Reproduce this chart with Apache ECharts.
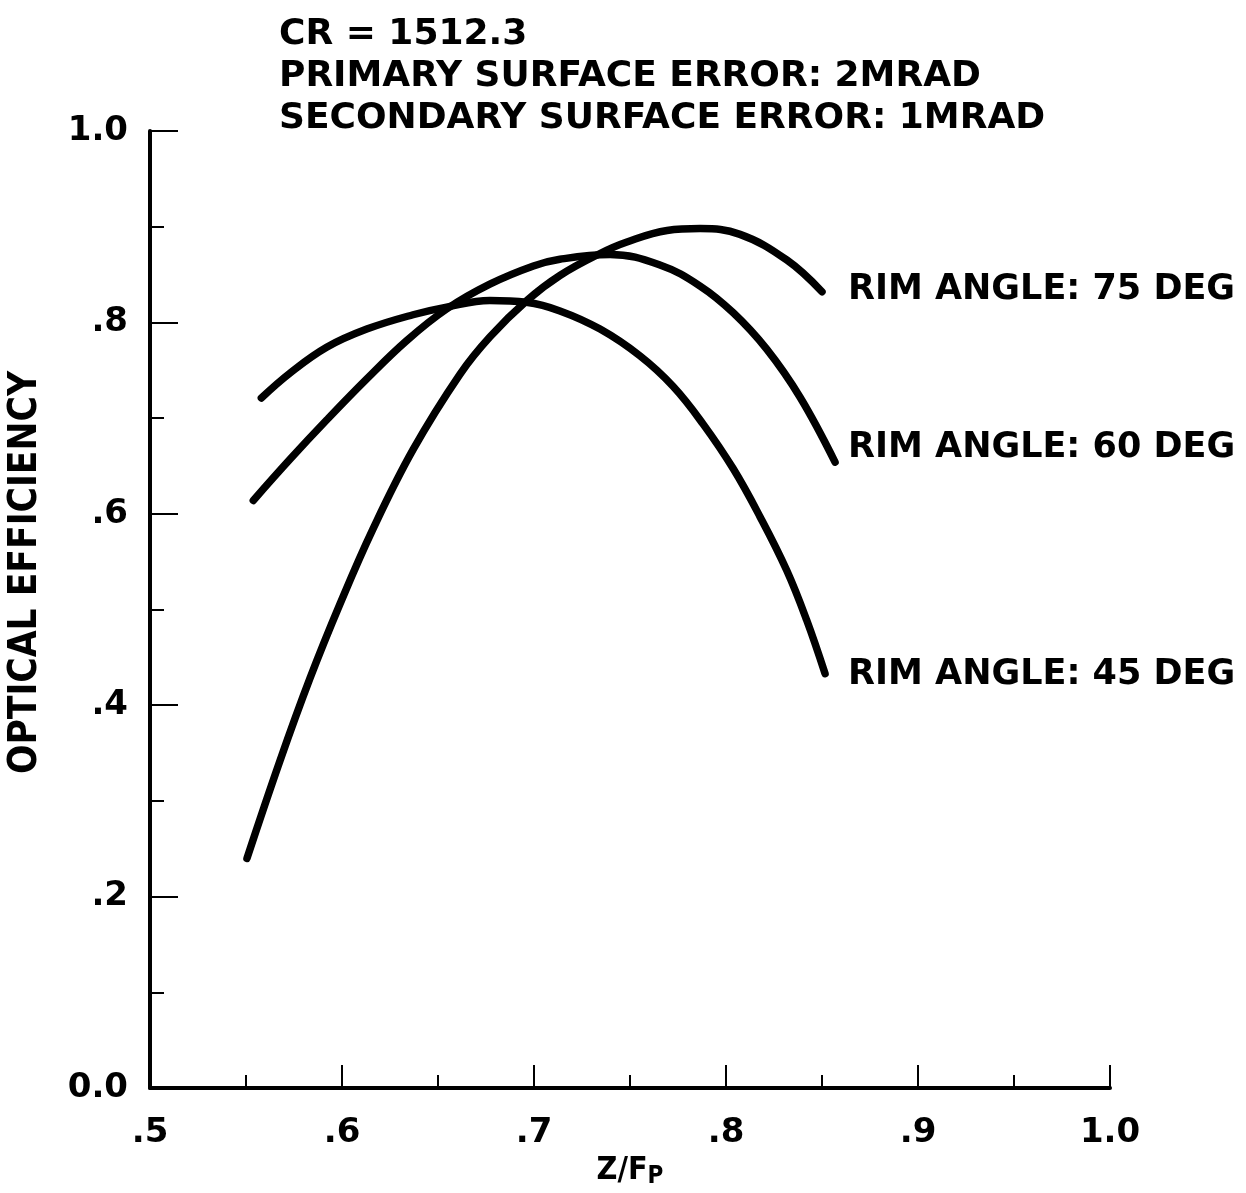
<!DOCTYPE html>
<html>
<head>
<meta charset="utf-8">
<script src="https://cdn.jsdelivr.net/npm/echarts@6/dist/echarts.min.js"></script>
<style>html,body{margin:0;padding:0;background:#fff}#c{width:1246px;height:1193px}</style>
</head>
<body>
<div id="c"></div>
<script>
// ---- data ----
const titleLines = ['CR = 1512.3', 'PRIMARY SURFACE ERROR: 2MRAD', 'SECONDARY SURFACE ERROR: 1MRAD'];
const xTickLabels = ['.5', '.6', '.7', '.8', '.9', '1.0'];
const yTickLabels = ['0.0', '.2', '.4', '.6', '.8', '1.0'];
const seriesNames = ['RIM ANGLE: 75 DEG', 'RIM ANGLE: 60 DEG', 'RIM ANGLE: 45 DEG'];

const x75 = [0.5505, 0.5677, 0.5833, 0.599, 0.6161, 0.637, 0.6615, 0.6771, 0.6964, 0.7135, 0.7344, 0.7484, 0.7693, 0.7865, 0.8073, 0.8318, 0.850];
const y75 = [0.240, 0.342, 0.428, 0.506, 0.584, 0.667, 0.746, 0.785, 0.823, 0.849, 0.872, 0.884, 0.896, 0.898, 0.892, 0.865, 0.832];

const x60 = [0.5538, 0.5729, 0.592, 0.6129, 0.6337, 0.6545, 0.677, 0.6997, 0.7135, 0.7396, 0.7656, 0.7865, 0.8038, 0.8212, 0.8385, 0.8568];
const y60 = [0.614, 0.657, 0.698, 0.741, 0.781, 0.814, 0.840, 0.859, 0.866, 0.871, 0.860, 0.838, 0.810, 0.772, 0.722, 0.654];

const x45 = [0.558, 0.5729, 0.592, 0.6129, 0.637, 0.6545, 0.677, 0.696, 0.7135, 0.7344, 0.7552, 0.7725, 0.788, 0.8038, 0.8177, 0.8316, 0.842, 0.8516];
const y45 = [0.721, 0.747, 0.774, 0.793, 0.808, 0.816, 0.823, 0.821, 0.812, 0.793, 0.765, 0.733, 0.694, 0.647, 0.597, 0.541, 0.489, 0.433];

// ---- chart ----
const pairs = (xs, ys) => xs.map((x, i) => [x, ys[i]]);
const labelOffsets = [[26, -2], [13, -14], [23, 1]];
const FONT = 'DejaVu Sans';
const chart = echarts.init(document.getElementById('c'), null, {renderer: 'canvas'});

function mkSeries(name, data, k) {
  return {
    name, type: 'line', data, smooth: 0.4, showSymbol: false, symbol: 'none',
    lineStyle: {color: '#000', width: 7.5, cap: 'round', join: 'round'},
    endLabel: {
      show: true, formatter: name, color: '#000', fontFamily: FONT, fontWeight: 'bold', fontSize: 35,
      distance: 0, offset: labelOffsets[k], align: 'left', verticalAlign: 'middle'
    },
    animation: false
  };
}

chart.setOption({
  backgroundColor: '#fff',
  animation: false,
  title: {
    text: titleLines.join('\n'),
    left: 274, top: 9,
    textStyle: {color: '#000', fontFamily: FONT, fontWeight: 'bold', fontSize: 36, lineHeight: 42}
  },
  grid: {left: 150, right: 136, top: 131, bottom: 105, containLabel: false, outerBoundsMode: 'none'},
  xAxis: {
    type: 'value', min: 0.5, max: 1.0, interval: 0.1,
    name: '{a|Z/F}{b|P}', nameLocation: 'middle', nameGap: 64,
    nameTextStyle: {rich: {
      a: {fontFamily: 'DejaVu Sans Condensed', fontWeight: 'bold', fontSize: 32, color: '#000'},
      b: {fontFamily: 'DejaVu Sans Condensed', fontWeight: 'bold', fontSize: 24, color: '#000', padding: [12, 0, 0, 0]}
    }},
    axisLine: {show: true, lineStyle: {color: '#000', width: 4}},
    axisTick: {show: true, inside: true, length: 23, lineStyle: {color: '#000', width: 2}},
    minorTick: {show: true, splitNumber: 2, length: 13, lineStyle: {color: '#000', width: 2}},
    splitLine: {show: false}, minorSplitLine: {show: false},
    axisLabel: {
      margin: 28, color: '#000', fontFamily: FONT, fontWeight: 'bold', fontSize: 34,
      formatter: v => xTickLabels[Math.round((v - 0.5) / 0.1)]
    }
  },
  yAxis: {
    type: 'value', min: 0, max: 1.0, interval: 0.2,
    name: 'OPTICAL EFFICIENCY', nameLocation: 'middle', nameGap: 105, nameRotate: 90,
    nameTextStyle: {color: '#000', fontFamily: 'DejaVu Sans Condensed', fontWeight: 'bold', fontSize: 38.5, padding: [0, 0, 0, 74]},
    axisLine: {show: true, lineStyle: {color: '#000', width: 4}},
    axisTick: {show: true, inside: true, length: 28, lineStyle: {color: '#000', width: 2}},
    minorTick: {show: true, splitNumber: 2, length: 14, lineStyle: {color: '#000', width: 2}},
    splitLine: {show: false}, minorSplitLine: {show: false},
    axisLabel: {
      margin: 22, color: '#000', fontFamily: FONT, fontWeight: 'bold', fontSize: 34,
      formatter: v => yTickLabels[Math.round(v / 0.2)]
    }
  },
  series: [
    mkSeries(seriesNames[0], pairs(x75, y75), 0),
    mkSeries(seriesNames[1], pairs(x60, y60), 1),
    mkSeries(seriesNames[2], pairs(x45, y45), 2)
  ]
});
</script>
</body>
</html>
